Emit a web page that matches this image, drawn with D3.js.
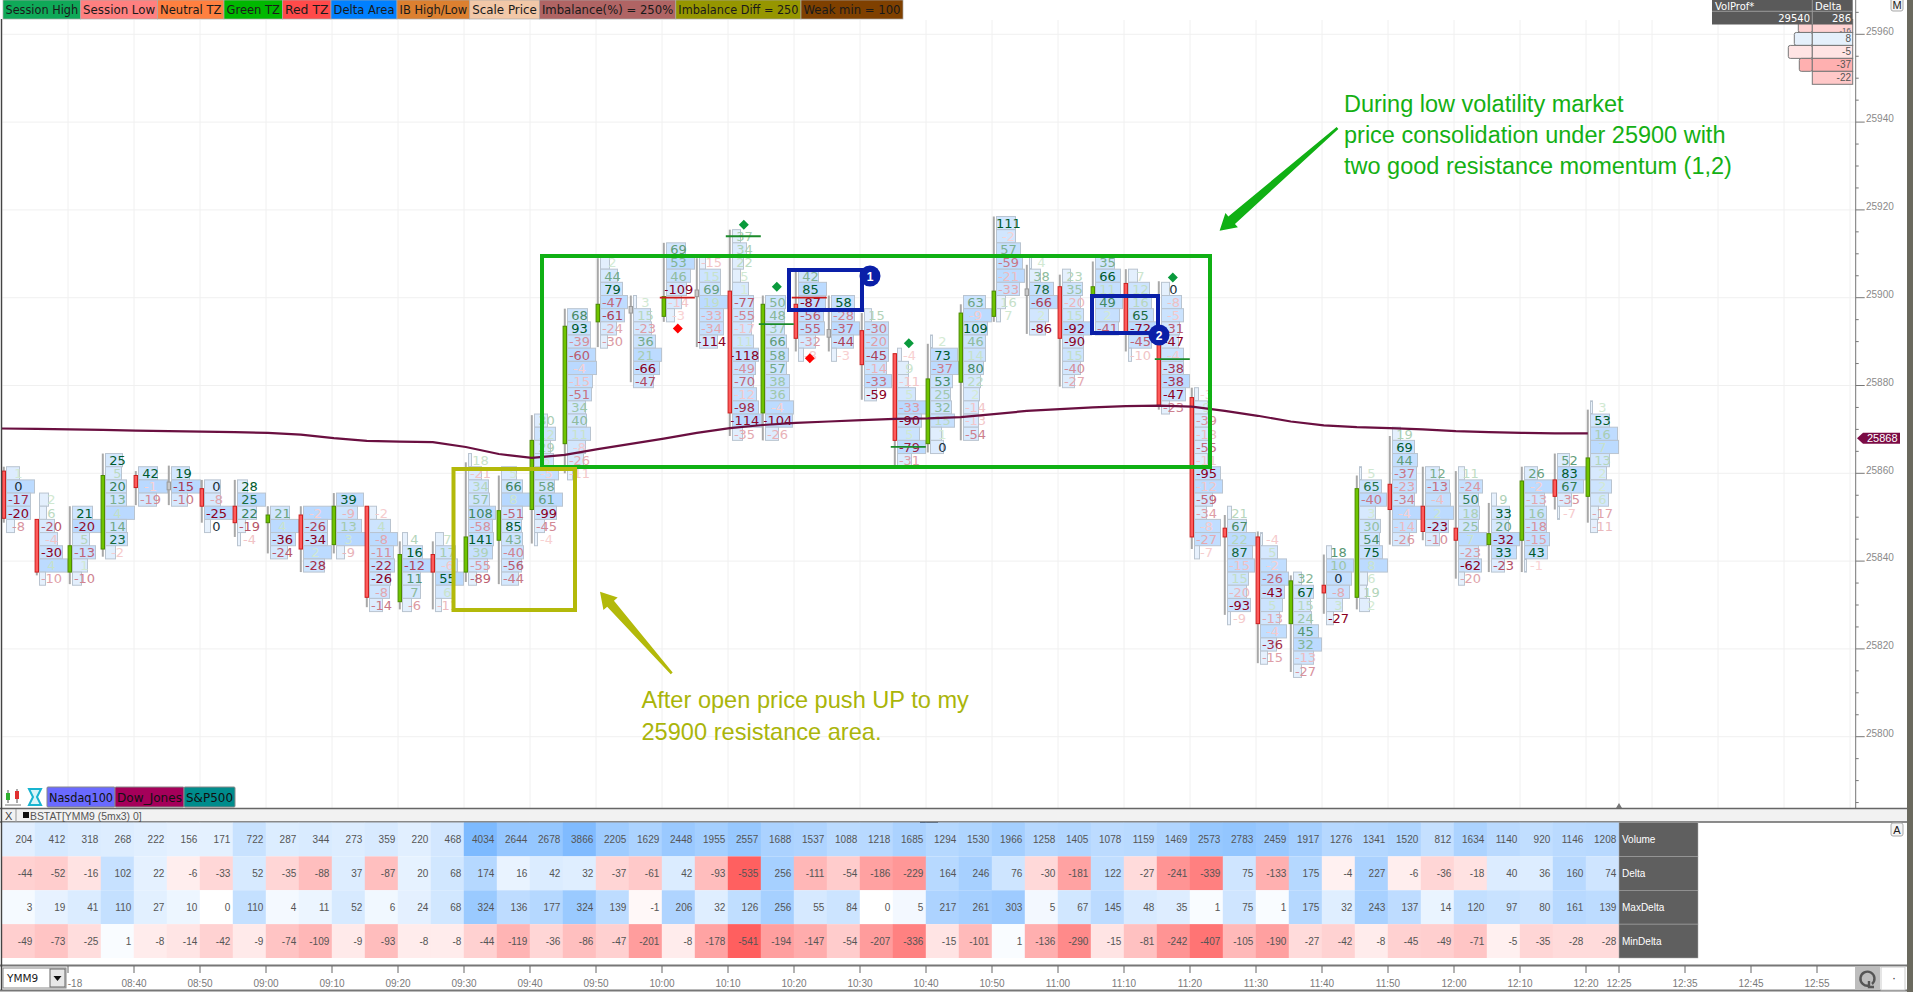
<!DOCTYPE html>
<html><head><meta charset="utf-8">
<script src="https://cdn.jsdelivr.net/npm/d3@7"></script>
<style>html,body{margin:0;padding:0;background:#fff;overflow:hidden}svg{display:block}</style>
</head><body><svg id="c" width="1913" height="992"></svg>
<script>
// ---------- footprint data ----------
const barTopPrice=[25860,25854,25851,25863,25860,25860,25857,25857,25851,25851,25854,25851,25845,25845,25863,25860,25872,25896,25908,25899,25911,25908,25914,25899,25905,25899,25896,25887,25890,25899,25917,25908,25905,25908,25905,25902,25878,25851,25845,25836,25842,25860,25869,25860,25860,25854,25860,25863,25875];
const barDeltas=[
[1,0,-17,-20,-8],[2,6,-20,-4,-30,4,-10],[21,-20,5,-13,1,-10],[25,5,20,13,4,14,23,-2],[42,-1,-19],[19,-15,-10],[0,-8,-25,0],[28,25,22,-19,-4],[21,4,-36,-24],[-2,-26,-34,2,-28],
[39,-9,13,3,-9],[-2,4,-8,-11,-22,-26,-8,-14],[4,16,-12,11,7,-6],[7,17,-6,55,6,-11],[18,-21,34,57,108,-58,141,39,-55,-89],[5,66,8,-51,85,43,-40,-56,-44],[30,12,29,6,-5,58,61,-99,-45,-4],[68,93,-39,-60,-4,-15,-51,34,40,11,-8,-26,-11],[2,44,79,-47,-61,-24,-30],[3,15,-23,36,21,-66,-47],
[69,53,46,-109,-14,-3],[-15,15,69,19,-33,-34,-114],[37,34,22,5,1,-77,-55,-17,11,-118,-49,-70,-12,-98,-114,-35],[50,48,37,66,58,57,38,36,-4,-104,-26],[42,85,-87,-56,-55,-32,-8],[58,-28,-37,-44,-3],[15,-30,-20,-45,-14,-33,-59],[-4,9,-11,5,-33,-90,5,-79,-31],[2,73,-37,53,25,32,15,1,0],[63,-9,109,46,14,80,22,2,-14,-13,-54],
[111,-2,57,-59,-21,-33,16,7],[4,38,78,-66,2,-86],[23,35,-20,15,-92,-90,15,-40,-27],[35,66,11,49,2,-41],[7,12,16,65,-72,-45,-10],[0,-8,-5,-31,-47,-4,-38,-38,-47,-23],[-3,9,-39,-18,-55,-11,-95,-12,-59,-34,-8,-27,-7],[21,67,22,87,-15,15,-20,-93,-9],[-4,5,-2,-26,-43,5,-13,-4,-36,-15],[32,67,15,24,45,32,-13,-27],
[18,10,0,-8,3,-27],[5,65,-40,3,30,54,75,8,6,19,2],[19,69,44,-37,-23,-34,-4,-14,-26],[12,-13,-4,2,-23,-10],[11,-24,50,18,25,7,-23,-62,-20],[9,33,20,-32,33,-23],[26,-2,-13,16,-18,-15,43,-1],[52,83,67,-35,-7],[3,53,16,7,13,2,2,6,-17,-11]];
const barRowVolumes=[
[13,28,24,24,8],[9,7,15,18,23,28,6],[20,29,17,23,15,9],[17,16,21,21,29,21,22,10],[19,29,18],[18,29,16],[16,16,29,6],[10,28,19,8,3],[19,28,25,17],[29,24,24,28,21],
[27,21,25,30,8],[7,21,28,24,25,21,20,13],[5,20,29,18,18,9],[8,20,22,28,18,6],[3,13,20,21,27,24,25,24,19,8],[15,21,30,21,20,21,22,20,17],[13,21,16,19,24,20,28,22,10,3],[20,23,23,28,29,25,24,18,19,23,18,16,5],[9,17,22,27,24,16,7],[3,17,18,22,28,26,20],
[19,28,24,20,15,8],[6,21,21,28,24,24,18],[8,14,11,8,16,21,21,19,21,26,23,21,24,26,29,10],[20,19,19,21,23,21,24,24,28,27,13],[20,28,27,25,26,17,5],[23,23,28,22,5],[7,24,24,24,22,27,12],[4,11,11,18,29,24,22,28,14],[2,27,28,22,20,21,24,11,13],[22,28,24,22,22,20,17,16,15,15,15],
[19,19,24,26,28,23,9,4],[2,11,24,28,19,16],[8,20,18,21,29,21,21,18,12],[19,25,25,27,24,23],[9,21,23,25,28,23,3],[8,20,22,18,17,22,22,28,24,8],[4,13,17,17,16,13,26,28,18,12,26,26,5],[4,19,28,25,27,21,19,23,3],[2,17,26,28,24,22,19,26,16,7],[8,20,17,18,25,28,20,8],
[5,27,25,23,16,7],[2,22,27,16,21,20,23,28,8,7,10],[8,22,25,24,24,22,29,24,17],[14,24,25,28,23,14],[6,24,20,21,20,28,20,23,6],[5,18,17,28,25,13],[13,28,20,22,22,25,23,2],[12,28,26,14,2],[2,19,27,28,19,16,21,18,8,7]];
// candle side: 1 up, -1 down, 0 flat
const candleSide=[-1,-1,1,1,-1,0,-1,-1,1,-1,1,-1,1,-1,1,1,1,1,1,0,1,0,-1,1,-1,0,-1,-1,1,1,1,0,-1,1,-1,-1,-1,-1,-1,1,-1,1,-1,-1,-1,1,1,-1,1];
const candleHigh=[25861.5,25849.5,25852.5,25864.5,25860.5,25861.75,25858.5,25858.5,25852.5,25852.5,25855.5,25852.5,25844.5,25844.5,25862.5,25859.5,25873.25,25897.5,25909,25900.5,25912.5,25909,25915.5,25900.5,25906,25900.5,25896.5,25887.25,25889.5,25898.5,25918.5,25907.5,25905.25,25908.25,25906.5,25903.75,25879.5,25850.5,25846.75,25836.75,25841.5,25859.5,25868.5,25861.5,25860.5,25853.25,25861.5,25864.5,25874.5];
const candleLow=[25848.75,25836.75,25834.75,25841,25852.75,25852.75,25848.75,25845.5,25841.75,25837.5,25841.75,25829.5,25829,25829,25835.25,25834.75,25844,25860,25888.75,25880.75,25894.5,25888.75,25868.5,25867.5,25887.75,25887.75,25876.75,25861.5,25864.75,25867.5,25894.5,25891.75,25879.75,25892,25887.75,25874.5,25842.75,25827.75,25816.75,25814.75,25828,25829,25843.75,25844.75,25836,25837.5,25837.5,25851.75,25848.75];
const bodyTop=[25860.5,25849.5,25843.5,25859.5,25859.5,25858,25856.5,25852.5,25850.5,25850.5,25852.5,25852.5,25841.5,25841.5,25845.5,25851.5,25867.5,25893.5,25898.5,25898,25900.25,25901.75,25901.5,25898.5,25898.5,25892.75,25892.5,25887.25,25881.5,25896.5,25901.5,25902,25902.5,25902.5,25903.25,25890,25877.25,25847.5,25845.5,25835.5,25834.5,25856.5,25857.5,25852.5,25847.5,25846.25,25858.25,25858.5,25863.5];
const bodyBottom=[25849.75,25837.5,25837.5,25842.75,25856.75,25856.25,25852.5,25848.75,25848.75,25842.75,25843.75,25831.75,25830.75,25837.5,25837.5,25844.75,25851.75,25866.75,25894.5,25896.5,25895.75,25900.25,25873.75,25873.75,25890.75,25891,25884.75,25867.5,25866.75,25880.75,25895.75,25900.5,25890.75,25900,25892.25,25875.5,25845.5,25845.5,25825.75,25825.75,25832.75,25831.75,25851.75,25846.75,25844.75,25843.75,25844.75,25854.75,25854.75];
const maValues=[25870.2,25870.1,25870,25869.9,25869.7,25869.6,25869.5,25869.4,25869.2,25868.8,25868,25867.4,25867.2,25867.1,25866,25864.4,25863.5,25864.2,25865.5,25866.7,25867.9,25869.2,25870.3,25871,25871.5,25871.8,25872.1,25872.4,25872.5,25872.8,25873.5,25874.2,25874.6,25875,25875.3,25875.4,25875.2,25874.2,25873.1,25871.8,25870.9,25870.5,25870.3,25870,25869.6,25869.4,25869.2,25869.1,25869.1];
const diamondBars=[22,23,20,24,27,35];
const diamondPrices=[25916.6,25902.5,25893,25886.2,25889.6,25904.6];
const diamondSides=[1,1,-1,-1,1,1];
const extremeBars=[22,23,20,24,27,35];
const extremePrices=[25914,25894,25900,25900,25866,25886];
const extremeSides=[1,1,-1,-1,1,1];
// ---------- stats table ----------
const statLabels=["Volume","Delta","MaxDelta","MinDelta"];
const statVolume=[204,412,318,268,222,156,171,722,287,344,273,359,220,468,4034,2644,2678,3866,2205,1629,2448,1955,2557,1688,1537,1088,1218,1685,1294,1530,1966,1258,1405,1078,1159,1469,2573,2783,2459,1917,1276,1341,1520,812,1634,1140,920,1146,1208];
const statDelta=[-44,-52,-16,102,22,-6,-33,52,-35,-88,37,-87,20,68,174,16,42,32,-37,-61,42,-93,-535,256,-111,-54,-186,-229,164,246,76,-30,-181,122,-27,-241,-339,75,-133,175,-4,227,-6,-36,-18,40,36,160,74];
const statMaxDelta=[3,19,41,110,27,10,0,110,4,11,52,6,24,68,324,136,177,324,139,-1,206,32,126,256,55,84,0,5,217,261,303,5,67,145,48,35,1,75,1,175,32,243,137,14,120,97,80,161,139];
const statMinDelta=[-49,-73,-25,1,-8,-14,-42,-9,-74,-109,-9,-93,-8,-8,-44,-119,-36,-86,-47,-201,-8,-178,-541,-194,-147,-54,-207,-336,-15,-101,1,-136,-290,-15,-81,-242,-407,-105,-190,-27,-42,-8,-45,-49,-71,-5,-35,-28,-28];
// ---------- axes and legends ----------
const priceTicks=[25960,25940,25920,25900,25880,25860,25840,25820,25800];
const timeTickMinutes=[520,530,540,550,560,570,580,590,600,610,620,630,640,650,660,670,680,690,700,710,720,730,740,745,755,765,775];
const gridMinutes=[500,510,520,530,540,550,560,570,580,590,600,610,620,630,640,650,660,670,680,690,700,710,720,730,740,745,750,760,770,780];
const legendLabels=["Session High","Session Low","Neutral TZ","Green TZ","Red TZ","Delta Area","IB High/Low","Scale Price","Imbalance(%) = 250%","Imbalance Diff = 250","Weak min = 100"];
const legendColors=["#0fa958","#ff8080","#ff8040","#00b800","#ff4a4a","#0080ff","#dc8030","#f2c8a8","#b06464","#969600","#7f4000"];
const indexLabels=["Nasdaq100","Dow_Jones","S&P500"];
const indexColors=["#6a6aff","#a5005a","#008c8c"];
const profileDeltas=[-16,8,-5,-37,-22];
const profileVolumes=[14,18,24,13,0];
const lastPrice=25868;

// ---------- scales ----------
const svg=d3.select("#c");
const y=d3.scaleLinear().domain([25860,25800]).range([473.3,736.7]);
const xTime=d3.scaleLinear().domain([520,745]).range([134,1619]);
const barMinute=i=>500+5*i;
const xBar=i=>xTime(barMinute(i))+1.8;
const rowH=Math.abs(y(3)-y(0));
const vol=d3.scaleLinear().domain([0,30]).range([0,30]);
const mono="'DejaVu Sans',Verdana,sans-serif", sans="'Liberation Sans',Arial,sans-serif";
const fmt=m=>String(Math.floor(m/60)).padStart(2,"0")+":"+String(m%60).padStart(2,"0");

// ---------- grid ----------
const grid=svg.append("g").attr("stroke","#f0f0f0").attr("stroke-width",1);
grid.selectAll("line.h").data(priceTicks).join("line").attr("x1",2).attr("x2",1855).attr("y1",d=>y(d)).attr("y2",d=>y(d));
grid.selectAll("line.v").data(gridMinutes).join("line").attr("x1",d=>xTime(d)).attr("x2",d=>xTime(d)).attr("y1",20).attr("y2",808);

// ---------- footprint bars ----------
const posColor=d3.interpolateRgb("#d6ecd6","#005a2c"), negColor=d3.interpolateRgb("#fad4d4","#8a0022");
const cellColor=d3.interpolateRgb("#eaf3fd","#b7d8ff");
const bars=svg.append("g");
barDeltas.forEach((vals,i)=>{
  const g=bars.append("g"), x0=xBar(i), x=x0+2.7;
  const maxAbs=d3.max(vals,Math.abs)||1;
  const rows=vals.map((v,k)=>({v,w:barRowVolumes[i][k],p:barTopPrice[i]-3*k}));
  g.selectAll("rect").data(rows).join("rect")
    .attr("x",x).attr("y",d=>y(d.p)-rowH/2).attr("width",d=>vol(d.w)).attr("height",rowH)
    .attr("fill",d=>cellColor(Math.pow(d.w/30,1.6))).attr("stroke","#b9c4d0").attr("stroke-width",1);
  g.selectAll("text").data(rows).join("text")
    .attr("x",x+12).attr("y",d=>y(d.p)+4.8).attr("text-anchor","middle")
    .attr("font-family",mono).attr("font-size",13)
    .attr("fill",d=>{const t=Math.pow(Math.abs(d.v)/maxAbs,1.3);return d.v===0?"#20303a":d.v>0?posColor(t):negColor(t);})
    .text(d=>d.v);
  g.append("line").attr("x1",x0).attr("x2",x0).attr("y1",y(candleHigh[i])).attr("y2",y(candleLow[i])).attr("stroke","#a8a8a8").attr("stroke-width",2);
  const s=candleSide[i];
  g.append("rect").attr("x",x0-1.7).attr("width",3.4).attr("y",y(bodyTop[i])).attr("height",y(bodyBottom[i])-y(bodyTop[i]))
    .attr("fill",s>0?"#6fc400":s<0?"#ff5a5a":"#c8c8c8").attr("stroke",s>0?"#4c8c00":s<0?"#cc2020":"#9a9a9a").attr("stroke-width",1);
});

// ---------- moving average ----------
svg.append("path").attr("fill","none").attr("stroke","#6a0f40").attr("stroke-width",2.2)
  .attr("d",d3.line().x((d,i)=>i===0?1:xBar(i)).y(d=>y(d))(maValues));

// extremes and diamonds
svg.append("g").selectAll("line").data(extremeBars).join("line")
  .attr("x1",d=>xBar(d)-4).attr("x2",d=>xBar(d)+31)
  .attr("y1",(d,i)=>y(extremePrices[i])).attr("y2",(d,i)=>y(extremePrices[i]))
  .attr("stroke",(d,i)=>extremeSides[i]>0?"#1a8a2a":"#cc1a1a").attr("stroke-width",1.8);
svg.append("g").selectAll("path").data(diamondBars).join("path")
  .attr("d",d3.symbol(d3.symbolSquare,50))
  .attr("transform",(d,i)=>`translate(${xBar(d)+14},${y(diamondPrices[i])}) rotate(45)`)
  .attr("fill",(d,i)=>diamondSides[i]>0?"#0a9a3c":"#ff0000");

// ---------- annotations ----------
const box=(x1,y1,x2,y2,c)=>svg.append("rect").attr("x",x1).attr("y",y1).attr("width",x2-x1).attr("height",y2-y1).attr("fill","none").attr("stroke",c).attr("stroke-width",4);
box(542,256,1210,467,"#10b014");
box(453.5,469,575,610,"#b3b90a");
box(789,270,862,310,"#0a1fa8");
box(1092,296,1158,333,"#0a1fa8");
[[870,276,"1"],[1159,335,"2"]].forEach(([cx,cy,t])=>{
  svg.append("circle").attr("cx",cx).attr("cy",cy).attr("r",10.5).attr("fill","#0a1fa8");
  svg.append("text").attr("x",cx).attr("y",cy+4.5).attr("text-anchor","middle").attr("fill","#fff").attr("font-family",sans).attr("font-weight","bold").attr("font-size",12).text(t);
});
function arrow(x1,y1,x2,y2,c,sw){
  const L=Math.hypot(x2-x1,y2-y1),ux=(x2-x1)/L,uy=(y2-y1)/L,nx=-uy,ny=ux,hl=16;
  const P=(a,b)=>[x1+ux*a+nx*b,y1+uy*a+ny*b];
  const pts=[P(0,-1.3),P(L-hl,-sw),P(L-hl,-9.5),P(L,0),P(L-hl,9.5),P(L-hl,sw),P(0,1.3)];
  svg.append("path").attr("d",d3.line()(pts)+"Z").attr("fill",c);
}
arrow(1337.5,128,1219.6,230.7,"#10b014",5);
arrow(671.7,673.3,600,591.7,"#b3b90a",4.5);
const note=(x,ys,lines,c,fs)=>lines.forEach((t,i)=>svg.append("text").attr("x",x).attr("y",ys[i]).attr("fill",c).attr("font-family",sans).attr("font-size",fs).text(t));
note(1344,[111.7,142.7,174],["During low volatility market","price consolidation under 25900 with","two good resistance momentum (1,2)"],"#14b014",23.5);
note(641.5,[708,740],["After open price push UP to my","25900 resistance area."],"#aab50a",23.6);

// ---------- legend ----------
const legendEdges=[3,80.6,157.6,224,282.4,331,397,469.7,539.4,675.8,801,903];
const lg=svg.append("g");
legendLabels.forEach((t,i)=>{
  lg.append("rect").attr("x",legendEdges[i]).attr("y",0).attr("width",legendEdges[i+1]-legendEdges[i]).attr("height",19).attr("fill",legendColors[i]).attr("stroke","#aaa").attr("stroke-width",.7);
  lg.append("text").attr("x",(legendEdges[i]+legendEdges[i+1])/2).attr("y",13.5).attr("text-anchor","middle").attr("font-family",mono).attr("font-size",12).attr("fill","#1a1a1a")
    .attr("textLength",legendEdges[i+1]-legendEdges[i]-5).attr("lengthAdjust","spacingAndGlyphs").text(t);
});

// ---------- price axis ----------
const axisX=1855.7;
const ax=svg.append("g");
ax.append("line").attr("x1",axisX).attr("x2",axisX).attr("y1",0).attr("y2",808).attr("stroke","#777");
ax.selectAll("line.t").data(d3.range(25770,25966,5).filter(p=>y(p)>8&&y(p)<808)).join("line")
  .attr("x1",axisX).attr("x2",p=>axisX+(p%20===0?9:3)).attr("y1",p=>y(p)).attr("y2",p=>y(p)).attr("stroke","#777");
ax.selectAll("text").data(priceTicks).join("text").attr("x",1866).attr("y",p=>y(p)+0.2)
  .attr("font-family",sans).attr("font-size",10).attr("fill","#8a8a8a").text(p=>p);
const ty=y(lastPrice);
ax.append("path").attr("d",`M1857,${ty}L1863,${ty-5.5}H1900V${ty+5.5}H1863Z`).attr("fill","#7b0b45");
ax.append("text").attr("x",1867).attr("y",ty+4).attr("font-family",sans).attr("font-size",11).attr("fill","#fff").text(lastPrice);

// ---------- volume profile ----------
const vp=svg.append("g");
const vpY=d3.scaleBand().domain(d3.range(5)).range([19.5,84.3]);
const profColor=v=>v>=0?"#e5f0fb":d3.interpolateRgb("#ffecec","#ffb0b0")(Math.min(1,Math.abs(v)/37));
profileDeltas.forEach((d,i)=>{
  if(profileVolumes[i]>0) vp.append("rect").attr("x",1812.3-profileVolumes[i]).attr("y",vpY(i)).attr("width",profileVolumes[i]).attr("height",vpY.bandwidth()).attr("fill",profColor(d)).attr("stroke","#777").attr("rx",2);
  vp.append("rect").attr("x",1812.3).attr("y",vpY(i)).attr("width",40.4).attr("height",vpY.bandwidth()).attr("fill",profColor(d)).attr("stroke","#777");
  vp.append("text").attr("x",1851).attr("y",i===0?vpY(i)+13:vpY(i)+9.5).attr("text-anchor","end").attr("font-family",sans).attr("font-size",i===0?8:10).attr("fill","#555").text(d);
});
vp.append("rect").attr("x",1712).attr("y",0).attr("width",140.7).attr("height",24.5).attr("fill","#5a5a5a");
vp.append("line").attr("x1",1812.3).attr("x2",1812.3).attr("y1",0).attr("y2",24.5).attr("stroke","#999");
vp.append("line").attr("x1",1712).attr("x2",1852.7).attr("y1",11.3).attr("y2",11.3).attr("stroke","#999");
[["VolProf*",1715,9.5,"start"],["Delta",1815,9.5,"start"],["29540",1810,22,"end"],["286",1851,22,"end"]].forEach(([t,xx,yy,a])=>
  vp.append("text").attr("x",xx).attr("y",yy).attr("text-anchor",a).attr("font-family",mono).attr("font-size",10).attr("fill","#fff").text(t));

// ---------- bottom-left buttons ----------
const ib=svg.append("g");
const indexEdges=[47,115,184,235];
indexLabels.forEach((t,i)=>{
  ib.append("rect").attr("x",indexEdges[i]).attr("y",787).attr("width",indexEdges[i+1]-indexEdges[i]).attr("height",20).attr("fill",indexColors[i]).attr("stroke","#888").attr("rx",1);
  ib.append("text").attr("x",(indexEdges[i]+indexEdges[i+1])/2).attr("y",801.5).attr("text-anchor","middle").attr("font-family",mono).attr("font-size",12).attr("fill","#111")
    .attr("textLength",indexEdges[i+1]-indexEdges[i]-4).attr("lengthAdjust","spacingAndGlyphs").text(t);
});
ib.append("path").attr("d","M8,790V803M17,789V803").attr("stroke","#555").attr("stroke-width",1);
ib.append("rect").attr("x",6).attr("y",793).attr("width",4).attr("height",7).attr("fill","#30b030");
ib.append("rect").attr("x",15).attr("y",791).attr("width",4).attr("height",8).attr("fill","#e03030");
ib.append("path").attr("d","M5,805H21").attr("stroke","#777");
ib.append("path").attr("d","M29,789H41L37,797L41,805H29L33,797Z").attr("fill","#d8f4f8").attr("stroke","#18b4d0").attr("stroke-width",2);

// ---------- stats panel ----------
const sp=svg.append("g");
sp.append("rect").attr("x",0).attr("y",808).attr("width",1907).attr("height",14).attr("fill","#f2f2f2");
sp.append("line").attr("x1",0).attr("x2",1907).attr("y1",808.5).attr("y2",808.5).attr("stroke","#666").attr("stroke-width",1.5);
sp.append("line").attr("x1",0).attr("x2",1907).attr("y1",822).attr("y2",822).attr("stroke","#666").attr("stroke-width",1.5);
sp.append("line").attr("x1",16).attr("x2",16).attr("y1",809).attr("y2",822).attr("stroke","#999");
sp.append("text").attr("x",5).attr("y",819.5).attr("font-family",sans).attr("font-size",11).attr("fill","#444").text("X");
sp.append("rect").attr("x",23).attr("y",812).attr("width",6).attr("height",6).attr("fill","#111");
sp.append("text").attr("x",30).attr("y",819.5).attr("font-family",sans).attr("font-size",10.4).attr("fill","#555").text("BSTAT[YMM9 (5mx3) 0]");
sp.append("rect").attr("x",920).attr("y",822).attr("width",18).attr("height",2.5).attr("fill","#111");
sp.append("path").attr("d","M1616,808L1619,803L1622,808Z").attr("fill","#777");

const statRows=[statVolume,statDelta,statMaxDelta,statMinDelta];
const statMax=[4034,541,541,541];
const rowY=d3.scaleBand().domain(d3.range(4)).range([822.5,958]);
const colX=i=>xTime(barMinute(i))-0.2;
const colW=33;
const cPos=d3.interpolateRgb("#ffffff","#7dbaff"), cNeg=d3.interpolateRgb("#ffffff","#ff5f5f");
statRows.forEach((vals,r)=>{
  const g=sp.append("g");
  const fill=v=>{const t=Math.sqrt(Math.abs(v)/statMax[r]);return v>=0?cPos(t):cNeg(t);};
  g.selectAll("rect").data(vals).join("rect").attr("x",(d,i)=>colX(i)).attr("y",rowY(r)).attr("width",colW+.3).attr("height",rowY.bandwidth()).attr("fill",fill);
  g.selectAll("text").data(vals).join("text").attr("x",(d,i)=>colX(i)+colW-2.5).attr("y",rowY(r)+rowY.bandwidth()/2+3.5).attr("text-anchor","end")
    .attr("font-family",sans).attr("font-size",10).attr("fill","#555").text(d=>d);
  sp.append("rect").attr("x",1619).attr("y",rowY(r)).attr("width",79).attr("height",rowY.bandwidth()).attr("fill","#5f5f5f").attr("stroke","#aaa").attr("stroke-width",.5);
  sp.append("text").attr("x",1622).attr("y",rowY(r)+rowY.bandwidth()/2+3.5).attr("font-family",sans).attr("font-size",10).attr("fill","#fff").text(statLabels[r]);
});

// ---------- time axis ----------
const ta=svg.append("g");
ta.append("line").attr("x1",0).attr("x2",1907).attr("y1",965.5).attr("y2",965.5).attr("stroke","#777").attr("stroke-width",2);
ta.append("line").attr("x1",0).attr("x2",1907).attr("y1",990.5).attr("y2",990.5).attr("stroke","#777").attr("stroke-width",2);
ta.selectAll("line.t").data([510,...timeTickMinutes]).join("line").attr("x1",d=>xTime(d)).attr("x2",d=>xTime(d)).attr("y1",966).attr("y2",973).attr("stroke","#666");
ta.selectAll("text").data(timeTickMinutes).join("text").attr("x",d=>xTime(d)).attr("y",986.5).attr("text-anchor","middle").attr("font-family",sans).attr("font-size",10).attr("fill","#7a7a7a").text(fmt);
ta.append("text").attr("x",75).attr("y",986.5).attr("text-anchor","middle").attr("font-family",sans).attr("font-size",10).attr("fill","#7a7a7a").text("-18");
ta.append("rect").attr("x",3).attr("y",968).attr("width",63).attr("height",20).attr("fill","#fff").attr("stroke","#888");
ta.append("text").attr("x",7).attr("y",982).attr("font-family",mono).attr("font-size",10.5).attr("fill","#222").text("YMM9");
ta.append("rect").attr("x",50).attr("y",969).attr("width",15).attr("height",18).attr("fill","#e8e8e8").attr("stroke","#666");
ta.append("path").attr("d","M53.5,976H61.5L57.5,981Z").attr("fill","#111");
ta.append("rect").attr("x",1855).attr("y",967).attr("width",25).attr("height",23).attr("fill","#bdbdbd");
ta.append("path").attr("d","M1872,984A7,7 0 1 0 1869,985.5M1869,981V987H1874").attr("fill","none").attr("stroke","#555").attr("stroke-width",2.4);
ta.append("rect").attr("x",1881).attr("y",967).attr("width",24).attr("height",23).attr("fill","#fff").attr("stroke","#ccc");
ta.append("text").attr("x",1892).attr("y",982).attr("font-family",sans).attr("font-size",12).attr("fill","#333").text("·");

// ---------- frame ----------
svg.append("line").attr("x1",1.5).attr("x2",1.5).attr("y1",19).attr("y2",990).attr("stroke","#444").attr("stroke-width",1.4);
svg.append("rect").attr("x",1907).attr("y",0).attr("width",6).attr("height",992).attr("fill","#6a695e");
[[1897,4,"M"],[1897,829,"A"]].forEach(([xx,yy,t])=>{
  svg.append("rect").attr("x",xx-6).attr("y",yy-6).attr("width",12).attr("height",13).attr("rx",2).attr("fill","#f4f4f4").attr("stroke","#aaa");
  svg.append("text").attr("x",xx).attr("y",yy+4.5).attr("text-anchor","middle").attr("font-family",sans).attr("font-size",11).attr("fill","#222").text(t);
});
</script></body></html>
